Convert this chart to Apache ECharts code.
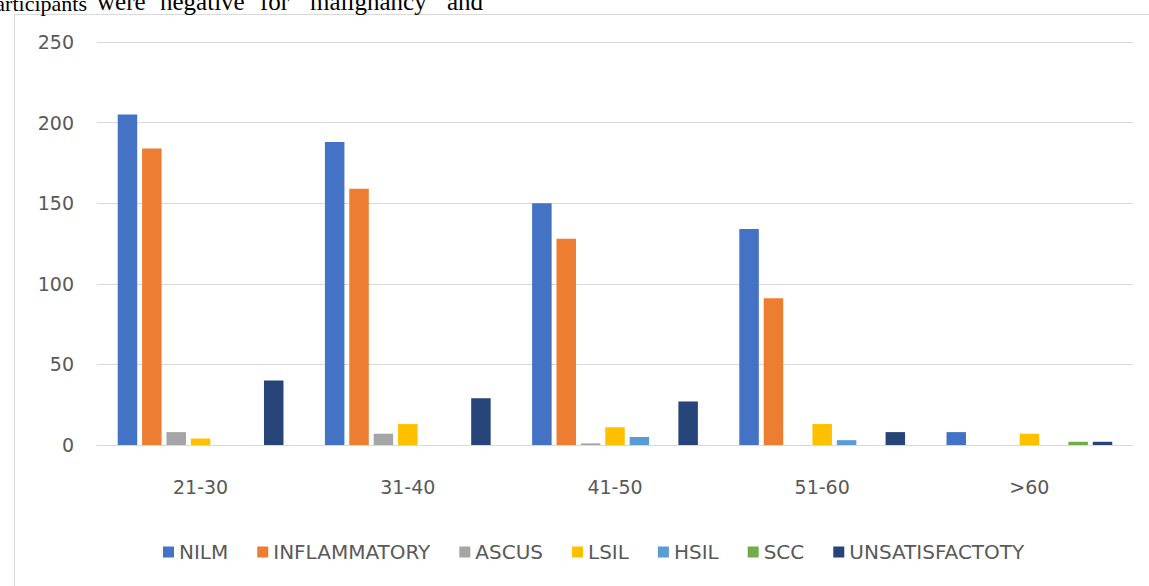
<!DOCTYPE html>
<html><head><meta charset="utf-8">
<script src="https://cdn.jsdelivr.net/npm/echarts@6/dist/echarts.min.js"></script>
<style>html,body{margin:0;padding:0;background:#fff;}#c{width:1149px;height:586px;}</style>
</head><body><div id="c"></div>
<script>
var categories = ['21-30', '31-40', '41-50', '51-60', '>60'];
var seriesNames = ['NILM', 'INFLAMMATORY', 'ASCUS', 'LSIL', 'HSIL', 'SCC', 'UNSATISFACTOTY'];
var nilm = [205, 188, 150, 134, 8];
var inflammatory = [184, 159, 128, 91, 0];
var ascus = [8, 7, 1, 0, 0];
var lsil = [4, 13, 11, 13, 7];
var hsil = [0, 0, 5, 3, 0];
var scc = [0, 0, 0, 0, 2];
var unsatisfactory = [40, 29, 27, 8, 2];
var yTicks = [0, 50, 100, 150, 200, 250];
var headerWords = ['articipants', 'were', 'negative', 'for', 'malignancy', 'and'];
var colors = ['#4472C4', '#ED7D31', '#A5A5A5', '#FFC000', '#5B9BD5', '#70AD47', '#264478'];
var values = [nilm, inflammatory, ascus, lsil, hsil, scc, unsatisfactory];
var wordX = [87, 97, 160, 260, 310, 447];

var FONT = '"DejaVu Sans", sans-serif';
var graphics = [
  {type: 'rect', left: 12, top: 12, shape: {width: 1150, height: 590}, style: {fill: 'none', stroke: '#d9d9d9', lineWidth: 1}, z: -1}
];
headerWords.forEach(function (w, i) {
  graphics.push({type: 'text', x: wordX[i], y: 14, style: {
    text: w, font: (i === 0 ? '22px' : '25px') + ' "Liberation Serif", serif', fill: '#000',
    align: i === 0 ? 'right' : 'left', verticalAlign: 'bottom'
  }});
});

var chart = echarts.init(document.getElementById('c'), null, {renderer: 'svg'});
chart.setOption({
  animation: false,
  color: colors,
  graphic: graphics,
  grid: {left: 97, right: 16, top: 42, bottom: 141},
  legend: {
    data: seriesNames, top: 537, left: 158, itemWidth: 11, itemHeight: 11, itemGap: 29,
    icon: 'rect',
    textStyle: {color: '#595959', fontSize: 20, fontFamily: FONT}
  },
  xAxis: {
    type: 'category', data: categories,
    axisLine: {lineStyle: {color: '#d9d9d9'}}, axisTick: {show: false},
    axisLabel: {color: '#595959', fontSize: 19, fontFamily: FONT, margin: 32}
  },
  yAxis: {
    type: 'value', min: yTicks[0], max: yTicks[yTicks.length - 1], interval: 50,
    axisLine: {show: false}, axisTick: {show: false},
    splitLine: {lineStyle: {color: '#d9d9d9'}},
    axisLabel: {color: '#595959', fontSize: 19, fontFamily: FONT, margin: 23, padding: [0, 0, 4, 0]}
  },
  series: seriesNames.map(function (n, i) {
    return {name: n, type: 'bar', data: values[i], barGap: '25%', barCategoryGap: '20%'};
  })
});
</script></body></html>
